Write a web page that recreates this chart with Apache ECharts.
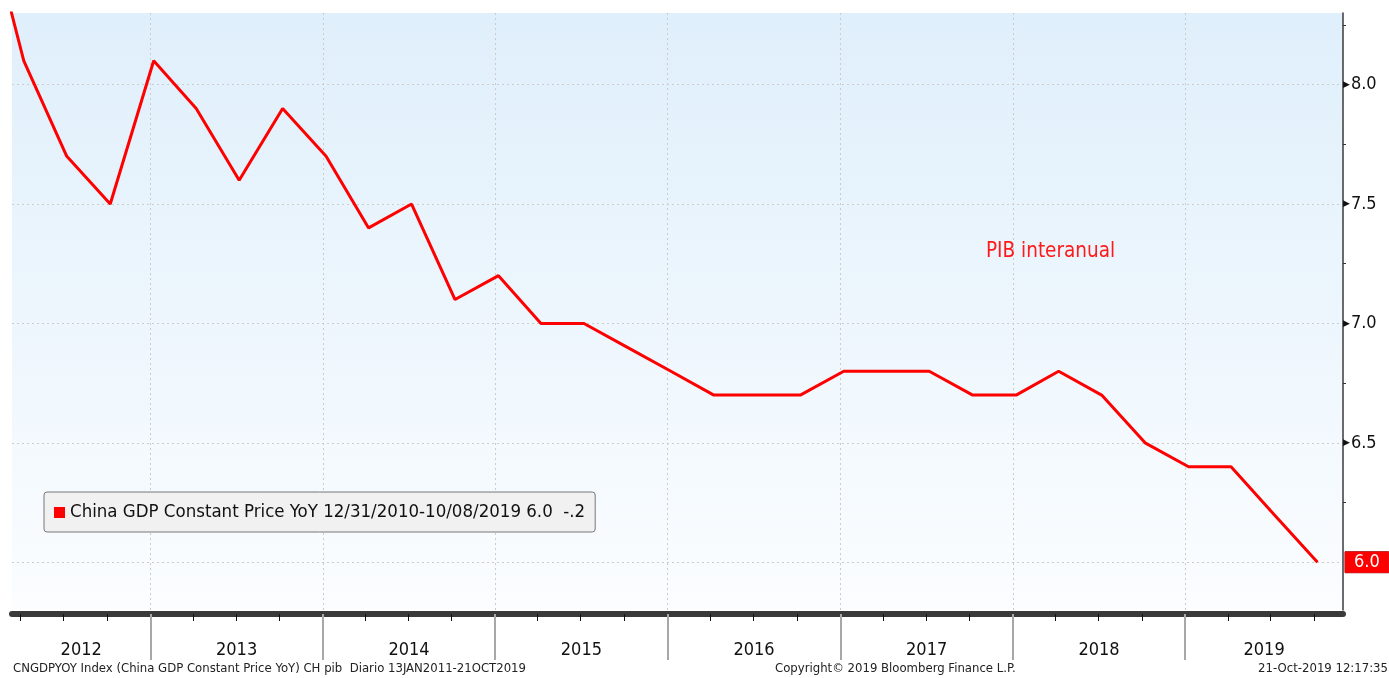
<!DOCTYPE html>
<html><head><meta charset="utf-8">
<script src="https://cdn.jsdelivr.net/npm/echarts@6/dist/echarts.min.js"></script>
<style>html,body{margin:0;padding:0;background:#fff}#c{width:1389px;height:678px}</style>
</head><body><div id="c"></div>
<script>
// ---- data ----
const releaseDates = [
  '2012-01-08','2012-04-08','2012-07-08','2012-10-08',
  '2013-01-08','2013-04-08','2013-07-08','2013-10-08',
  '2014-01-08','2014-04-08','2014-07-08','2014-10-08',
  '2015-01-08','2015-04-08','2015-07-08','2015-10-08',
  '2016-01-08','2016-04-08','2016-07-08','2016-10-08',
  '2017-01-08','2017-04-08','2017-07-08','2017-10-08',
  '2018-01-08','2018-04-08','2018-07-08','2018-10-08',
  '2019-01-08','2019-04-08','2019-07-08','2019-10-08'
];
const gdpYoY = [
  8.8, 8.1, 7.7, 7.5,
  8.1, 7.9, 7.6, 7.9,
  7.7, 7.4, 7.5, 7.1,
  7.2, 7.0, 7.0, 6.9,
  6.8, 6.7, 6.7, 6.7,
  6.8, 6.8, 6.8, 6.7,
  6.7, 6.8, 6.7, 6.5,
  6.4, 6.4, 6.2, 6.0
];
const yearLabels = ['2012','2013','2014','2015','2016','2017','2018','2019'];
const yearBoundaries = ['2013-01-01','2014-01-01','2015-01-01','2016-01-01','2017-01-01','2018-01-01','2019-01-01'];
const yTickLabels = [6.0, 6.5, 7.0, 7.5, 8.0];
const yMinorTicks = [6.25, 6.75, 7.25, 7.75, 8.25];
const seriesName = 'China GDP Constant Price YoY';
const legendSuffix = ' 12/31/2010-10/08/2019 6.0  -.2';
const annotation = 'PIB interanual';
const footerLeft = 'CNGDPYOY Index (China GDP Constant Price YoY) CH pib  Diario 13JAN2011-21OCT2019';
const footerCenter = 'Copyright\u00a9 2019 Bloomberg Finance L.P.';
const footerRight = '21-Oct-2019 12:17:35';

// ---- derived ----
const ts = s => new Date(s + 'T00:00:00Z').getTime();
const xMin = ts('2012-03-14'), xMax = ts('2019-12-01');
const quarterTicks = [];
yearLabels.forEach(y => ['01','04','07','10'].forEach(m => quarterTicks.push(ts(y + '-' + m + '-01'))));
const yearTicks = yearBoundaries.map(ts);
// year label sits at the centre of the visible part of each year
const yearMid = yearLabels.map(y => {
  const a = Math.max(ts(y + '-01-01'), xMin);
  const b = Math.min(ts((+y + 1) + '-01-01'), xMax);
  return (a + b) / 2;
});
const lastVal = gdpYoY[gdpYoY.length - 1];
const FONT = "'DejaVu Sans Condensed', 'DejaVu Sans', sans-serif";
const grey = {color: '#222', fontSize: 13, fontWeight: 'normal', fontFamily: FONT};
const off = {show: false};

const chart = echarts.init(document.getElementById('c'), null, {renderer: 'canvas'});
chart.setOption({
  animation: false,
  textStyle: {fontFamily: FONT},
  title: [
    {text: annotation, left: 981, top: 236, textStyle: {color: '#ff1a1a', fontSize: 20.5, fontWeight: 'normal', fontFamily: FONT}},
    {text: footerLeft, left: 13, top: 662, padding: 0, textStyle: grey},
    {text: footerCenter, left: 775, top: 662, padding: 0, textStyle: grey},
    {text: footerRight, right: 1, top: 662, padding: 0, textStyle: grey}
  ],
  legend: {
    left: 44, top: 492, orient: 'horizontal', z: 20,
    padding: [11, 10, 10, 10],
    backgroundColor: '#f1f1f1', borderColor: '#777', borderWidth: 1, borderRadius: 3,
    icon: 'rect', itemWidth: 11, itemHeight: 11, itemGap: 4,
    data: [seriesName],
    formatter: n => n + legendSuffix,
    textStyle: {fontSize: 18.5, color: '#111', fontFamily: FONT}
  },
  grid: {
    left: 12, right: 46, top: 13, bottom: 68, show: true, borderWidth: 0,
    backgroundColor: {type: 'linear', x: 0, y: 0, x2: 0, y2: 1,
      colorStops: [{offset: 0, color: '#dfeffb'}, {offset: 1, color: '#fbfdff'}]}
  },
  xAxis: [
    {type: 'value', min: xMin, max: xMax, position: 'bottom', offset: 4,
     axisLine: {show: true, lineStyle: {color: '#3a3a3a', width: 6}},
     axisTick: {show: true, customValues: quarterTicks, length: 7, lineStyle: {color: '#111', width: 1}},
     axisLabel: off, splitLine: off, minorTick: off, minorSplitLine: off},
    {type: 'value', min: xMin, max: xMax, position: 'bottom', offset: 4,
     axisLine: off,
     axisTick: {show: true, customValues: yearTicks, length: 46, lineStyle: {color: '#a8a8a8', width: 2}},
     axisLabel: off, splitLine: off, minorTick: off, minorSplitLine: off},
    {type: 'value', min: xMin, max: xMax, position: 'bottom', offset: 4,
     axisLine: off, axisTick: off, splitLine: off, minorTick: off, minorSplitLine: off,
     axisLabel: {show: true, customValues: yearMid, margin: 27, fontSize: 18, color: '#111', fontFamily: FONT,
                 formatter: v => String(new Date(v).getUTCFullYear())}}
  ],
  yAxis: [
    {type: 'value', position: 'right', min: 5.8, max: 8.3, splitNumber: 5,
     axisLine: {show: true, lineStyle: {color: '#3a3a3a', width: 1.5}},
     axisTick: off,
     splitLine: {show: true, showMinLine: false, showMaxLine: false, lineStyle: {color: '#cdcdcd', type: [2, 3], width: 1}},
     axisLabel: {show: true, margin: 0, customValues: yTickLabels,
       formatter: v => Math.abs(v - lastVal) < 1e-9 ? '' : '{t|\u25B6}{v|' + v.toFixed(1) + '}',
       rich: {t: {fontSize: 9, color: '#111', fontFamily: 'DejaVu Sans', padding: [0, 1, 0, 0]},
              v: {fontSize: 18, color: '#111', fontFamily: FONT}}}},
    {type: 'value', position: 'right', min: 5.8, max: 8.3,
     axisLine: off, splitLine: off, axisLabel: off,
     axisTick: {show: true, customValues: yMinorTicks, length: 3, lineStyle: {color: '#333', width: 1}}}
  ],
  series: [
    {
      name: 'yearGrid', type: 'line', xAxisIndex: 0, yAxisIndex: 0, data: [], z: 1,
      markLine: {
        silent: true, symbol: 'none', z: 1,
        label: off,
        lineStyle: {color: '#cbcbcb', type: [2, 3], width: 1},
        data: yearTicks.map(t => ({xAxis: t}))
      }
    },
    {
      name: seriesName, type: 'line', xAxisIndex: 0, yAxisIndex: 0, z: 3,
      data: releaseDates.map((d, i) => [ts(d), gdpYoY[i]]),
      symbol: 'none', clip: true, color: '#ff0000',
      lineStyle: {color: '#ff0000', width: 3},
      markLine: {
        silent: true, symbol: 'none',
        lineStyle: {color: 'rgba(0,0,0,0)', width: 0},
        data: [{yAxis: lastVal}],
        label: {show: true, position: 'end', distance: 2, formatter: p => Number(p.value).toFixed(1),
                backgroundColor: '#ff0000', color: '#fff', fontSize: 18, fontFamily: FONT,
                padding: [2, 9, 1, 9], borderColor: '#8a0000', borderWidth: 0.5}
      }
    }
  ]
});
</script></body></html>
